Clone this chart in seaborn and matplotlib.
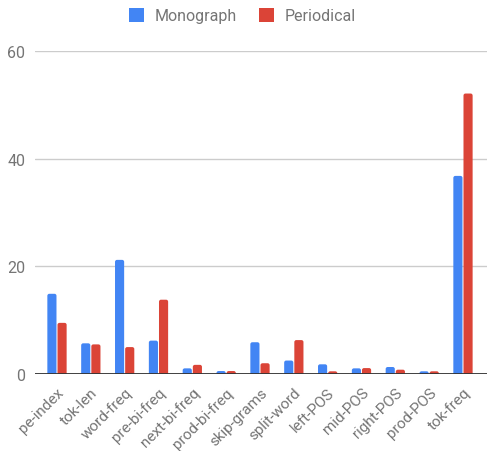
import matplotlib
matplotlib.use("Agg")
import matplotlib.pyplot as plt
import seaborn as sns
import pandas as pd
from matplotlib.patches import Patch, FancyBboxPatch, Rectangle

categories = ["pe-index", "tok-len", "word-freq", "pre-bi-freq", "next-bi-freq",
              "prod-bi-freq", "skip-grams", "split-word", "left-POS", "mid-POS",
              "right-POS", "prod-POS", "tok-freq"]
monograph = [14.9, 5.7, 21.2, 6.2, 1.05, 0.55, 5.9, 2.5, 1.8, 1.05, 1.3, 0.5, 36.8]
periodical = [9.5, 5.5, 5.0, 13.8, 1.7, 0.55, 2.0, 6.3, 0.5, 1.1, 0.8, 0.5, 52.1]
series_names = ["Monograph", "Periodical"]
colors = ["#4285F4", "#DB4437"]
yticks = [0, 20, 40, 60]

df = pd.DataFrame({
    "feature": categories * 2,
    "value": monograph + periodical,
    "series": [series_names[0]] * len(categories) + [series_names[1]] * len(categories),
})

sns.set_theme(style="white")
plt.rcParams["font.family"] = ["Roboto", "DejaVu Sans"]

W, H = 487, 452
fig = plt.figure(figsize=(W / 100, H / 100), dpi=100)
ax_l, ax_r, ax_b, ax_t = 35, 487, 375, 52
ax = fig.add_axes([ax_l / W, 1 - ax_b / H, (ax_r - ax_l) / W, (ax_b - ax_t) / H])

sns.barplot(data=df, x="feature", y="value", hue="series", order=categories,
            hue_order=series_names, palette=colors, width=0.6, gap=0.1, ax=ax,
            legend=False, saturation=1, edgecolor="none", linewidth=0)

xmin, xmax, ymin, ymax = -0.65, 12.71, 0, 60
ax.set_xlim(xmin, xmax)
ax.set_ylim(ymin, ymax)

# rounded bar tops
px_per_x = (ax_r - ax_l) / (xmax - xmin)
px_per_y = (ax_b - ax_t) / (ymax - ymin)
radius_px = 2.0
rx = radius_px / px_per_x
aspect = px_per_x / px_per_y
ry = rx * aspect
for p in list(ax.patches):
    if not isinstance(p, Rectangle):
        continue
    x, w, h = p.get_x(), p.get_width(), p.get_height()
    fc = p.get_facecolor()
    p.remove()
    ax.add_patch(FancyBboxPatch((x, -ry), w, h + ry,
                                boxstyle=f"round,pad=0,rounding_size={rx}",
                                mutation_aspect=aspect, facecolor=fc,
                                edgecolor="none", linewidth=0, zorder=2))

ax.set_yticks(yticks)
ax.set_yticklabels([str(v) for v in yticks], fontsize=11.5, color="#757575")
ax.yaxis.grid(True, color="#cccccc", linewidth=1)
ax.set_axisbelow(True)
ax.axhline(0, color="#333333", linewidth=1.3, zorder=5)
for s in ax.spines.values():
    s.set_visible(False)
ax.tick_params(axis="both", length=0)
ax.tick_params(axis="y", pad=7)
ax.set_xlabel("")
ax.set_ylabel("")
ax.set_xticks(range(len(categories)))
ax.set_xticklabels(categories, rotation=45, ha="right", rotation_mode="anchor",
                   fontsize=11, color="#757575")
ax.tick_params(axis="x", pad=8)

handles = [Patch(facecolor=c, edgecolor="none") for c in colors]
fig.legend(handles, series_names, loc="center", bbox_to_anchor=(242.5 / W, 1 - 16.5 / H),
           ncol=2, frameon=False, handlelength=0.95, handleheight=0.95,
           columnspacing=1.4, handletextpad=0.65, fontsize=11.5, labelcolor="#757575")

fig.savefig("out.png", dpi=100)
